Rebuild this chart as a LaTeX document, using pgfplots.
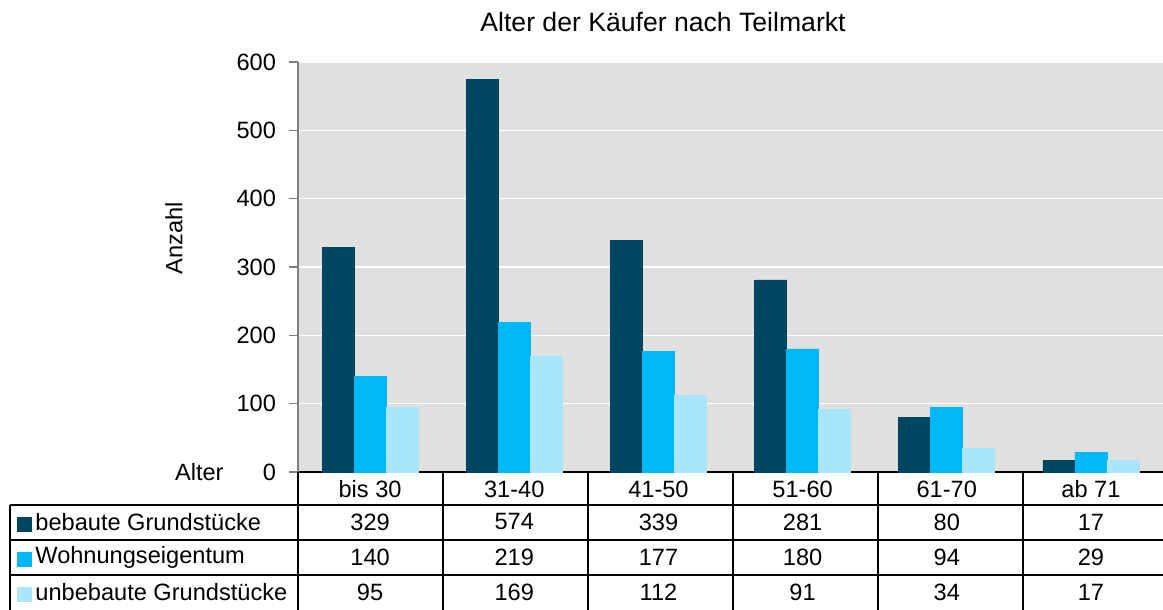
\documentclass[border=0pt]{standalone}
\usepackage{fontspec}
\setmainfont{Liberation Sans}
\usepackage{pgfplots}
\pgfplotsset{compat=1.18}
\definecolor{cdark}{HTML}{004661}
\definecolor{cblue}{HTML}{00B8F5}
\definecolor{clight}{HTML}{A9E5FC}
\definecolor{cback}{HTML}{E0E0E0}
\newcommand{\body}{\fontsize{11.8}{13.5}\selectfont}
\newcommand{\ttl}{\fontsize{13.3}{15}\selectfont}

\begin{document}
% 1 px of the reference = 0.5pt; y counted upward from the bottom edge
\begin{tikzpicture}
\path[use as bounding box] (0pt,0pt) rectangle (581.5pt,305pt);

\begin{axis}[
  at={(149pt,69pt)}, anchor=south west,
  scale only axis, width=432.5pt, height=205pt,
  ybar=0pt, bar width=16pt,
  xmin=-0.5, xmax=5.5, ymin=0, ymax=600,
  ytick={0,100,...,600},
  xtick=\empty,
  minor xtick={0.5,1.5,...,4.5},
  xminorgrids, ymajorgrids,
  grid style={white, line width=0.8pt},
  minor grid style={white, line width=0.8pt},
  axis background/.style={fill=cback},
  axis x line*=bottom, axis y line*=left,
  x axis line style={black, line width=0.6pt},
  y axis line style={gray, line width=0.6pt},
  ytick style={gray, line width=0.6pt},
  tick align=outside, major tick length=4.5pt,
  yticklabel style={font=\body, xshift=-3pt},
  /pgf/number format/assume math mode=true,
  clip=false,
]
\addplot[fill=cdark, draw=cdark] coordinates {(0,329) (1,574) (2,339) (3,281) (4,80) (5,17)};
\addplot[fill=cblue, draw=cblue] coordinates {(0,140) (1,219) (2,177) (3,180) (4,94) (5,29)};
\addplot[fill=clight, draw=clight] coordinates {(0,95) (1,169) (2,112) (3,91) (4,34) (5,17)};
\end{axis}

\begin{scope}[x=0.5pt, y=0.5pt]
% title and labels
\node[font=\ttl] at (663,588) {Alter der Käufer nach Teilmarkt};
\node[font=\body, rotate=90] at (174,372) {Anzahl};
\node[font=\body, anchor=east, inner sep=1pt] at (226,138) {Alter};

% data table under the axis
\draw[black, line width=0.6pt] (10,105) -- (1163,105);
\draw[black, line width=0.6pt] (10,70) -- (1163,70);
\draw[black, line width=0.6pt] (10,35) -- (1163,35);
\draw[black, line width=0.6pt] (10,105) -- (10,0);
\foreach \xx in {298,443,588,733,878,1023} {
  \draw[black, line width=0.6pt] (\xx,138) -- (\xx,0);
}
\foreach \lab [count=\i from 0] in {bis 30,31-40,41-50,51-60,61-70,ab 71} {
  \node[font=\body] at (370.1+144.17*\i,121) {\lab};
}
\foreach \v [count=\i from 0] in {329,574,339,281,80,17} {
  \node[font=\body] at (370.1+144.17*\i,88) {\v};
}
\foreach \v [count=\i from 0] in {140,219,177,180,94,29} {
  \node[font=\body] at (370.1+144.17*\i,53) {\v};
}
\foreach \v [count=\i from 0] in {95,169,112,91,34,17} {
  \node[font=\body] at (370.1+144.17*\i,18) {\v};
}
% legend keys in the first column
\fill[cdark] (17,78) rectangle (32,93);
\node[font=\body, anchor=west, inner sep=1pt] at (33,88) {bebaute Grundstücke};
\fill[cblue] (17,43) rectangle (32,58);
\node[font=\body, anchor=west, inner sep=1pt] at (33,53) {Wohnungseigentum};
\fill[clight] (17,8) rectangle (32,23);
\node[font=\body, anchor=west, inner sep=1pt] at (33,18) {unbebaute Grundstücke};
\end{scope}
\end{tikzpicture}
\end{document}
